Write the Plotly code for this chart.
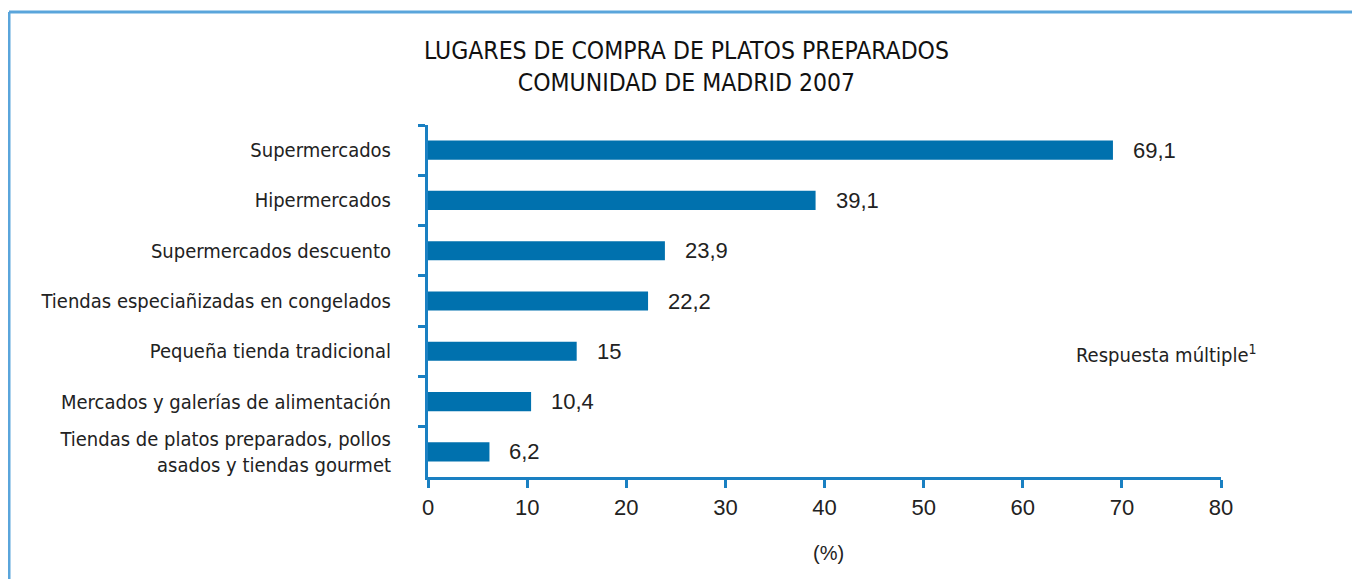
import plotly.graph_objects as go

categories = [
    "Supermercados",
    "Hipermercados",
    "Supermercados descuento",
    "Tiendas especiañizadas en congelados",
    "Pequeña tienda tradicional",
    "Mercados y galerías de alimentación",
    "Tiendas de platos preparados, pollos<br>asados y tiendas gourmet",
]
values = [69.1, 39.1, 23.9, 22.2, 15, 10.4, 6.2]
x_ticks = [0, 10, 20, 30, 40, 50, 60, 70, 80]

BAR = "#0071ae"
AXIS = "#1a80c2"
FRAME = "#5aa5db"
NUMFONT = "Liberation Sans, Arial, sans-serif"
CATFONT = "Liberation Sans Narrow, DejaVu Sans Condensed, Arial Narrow, sans-serif"

labels = [f"{v:g}".replace(".", ",") for v in values]

fig = go.Figure()
fig.add_trace(go.Bar(
    x=values, y=categories, orientation="h",
    marker=dict(color=BAR, line=dict(width=0)),
    width=0.38, hoverinfo="skip",
))

for c, v, t in zip(categories, values, labels):
    fig.add_annotation(x=v, y=c, text=t, showarrow=False, xanchor="left",
                       xshift=18, font=dict(family=NUMFONT, size=22, color="#222222"))

# page offset (body margin) of 8px
OFF = 8
W, H = 1360, 579
# plot area in page coords: x 428..1221, y 125..477
L = 428 - OFF
T = 125 - OFF
R = W - (1221 - OFF)
B = H - (477 - OFF)
pw, ph = W - L - R, H - T - B

def px(x):
    return (x - OFF - L) / pw

def py(y):
    return (H - B - (y - OFF)) / ph

# outer frame (top and left edges)
fig.add_shape(type="line", xref="paper", yref="paper", x0=px(9), x1=px(1375), y0=py(12), y1=py(12),
              line=dict(color=FRAME, width=3))
fig.add_shape(type="line", xref="paper", yref="paper", x0=px(9), x1=px(9), y0=py(12), y1=py(600),
              line=dict(color=FRAME, width=3))

fig.add_annotation(xref="paper", yref="paper", x=px(686), y=py(67), text="LUGARES DE COMPRA DE PLATOS PREPARADOS<br>COMUNIDAD DE MADRID 2007",
                   showarrow=False, xanchor="center", yanchor="middle",
                   font=dict(family=CATFONT, size=24.5, color="#111111"))
fig.add_annotation(xref="paper", yref="paper", x=px(828), y=py(553), text="(%)",
                   showarrow=False, xanchor="center", yanchor="middle",
                   font=dict(family=NUMFONT, size=20, color="#222222"))
fig.add_annotation(xref="paper", yref="paper", x=px(1074), y=py(354), text="Respuesta múltiple<sup>1</sup>",
                   showarrow=False, xanchor="left", yanchor="middle",
                   font=dict(family=CATFONT, size=20, color="#222222"))

fig.update_layout(
    width=W, height=H,
    margin=dict(l=L, r=R, t=T, b=B),
    paper_bgcolor="white", plot_bgcolor="white",
    showlegend=False, bargap=0.62,
)
fig.update_xaxes(
    range=[0, 80], tickvals=x_ticks, ticktext=[str(v) for v in x_ticks],
    showgrid=False, zeroline=False, showline=True, linecolor=AXIS, linewidth=3,
    ticks="outside", ticklen=8, tickwidth=3, tickcolor=AXIS,
    tickfont=dict(family=NUMFONT, size=22, color="#222222"), ticklabelstandoff=1,
)
fig.update_yaxes(
    autorange="reversed", tickson="boundaries",
    showgrid=False, zeroline=False, showline=True, linecolor=AXIS, linewidth=3,
    ticks="outside", ticklen=7, tickwidth=3, tickcolor=AXIS,
    tickfont=dict(family=CATFONT, size=20, color="#222222"), ticklabelstandoff=30,
)

fig.write_html("out.html")
